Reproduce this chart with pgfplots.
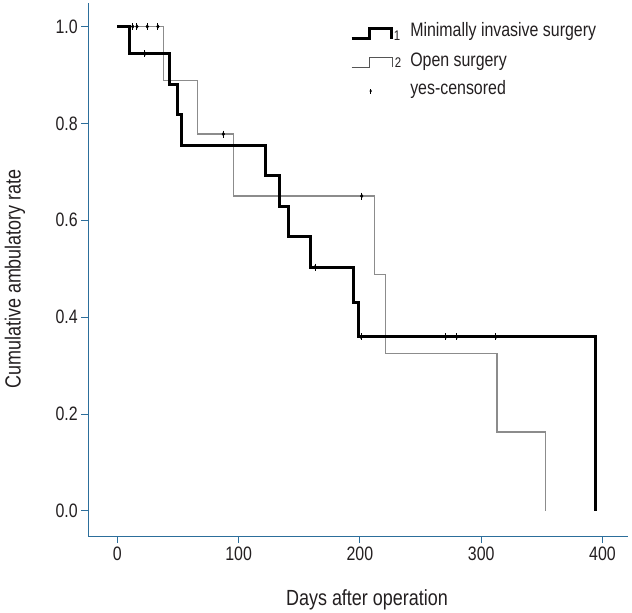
\documentclass[border=0pt]{standalone}
\usepackage{pgfplots}
\pgfplotsset{compat=1.18}
\usepackage{fontspec}
\setmainfont{Liberation Sans}[FakeStretch=0.82]
\definecolor{axisblue}{HTML}{2C6E9B}
\definecolor{txt}{HTML}{231F20}
\definecolor{grayline}{HTML}{8C8C8C}
\definecolor{legendgray}{HTML}{555555}

\begin{document}
\begin{tikzpicture}
\begin{axis}[
  scale only axis, width=539.7bp, height=532.7bp,
  xmin=-23.9, xmax=421, ymin=-0.052, ymax=1.048,
  axis x line*=bottom, axis y line*=left,
  axis line style={axisblue, line width=0.9bp, -},
  xtick={0,100,200,300,400},
  ytick={0,0.2,0.4,0.6,0.8,1.0},
  tick align=outside, major tick length=7bp,
  tick style={axisblue, line width=0.9bp},
  /pgf/number format/assume math mode=true,
  ticklabel style={font=\fontsize{19.5}{20}\selectfont, text=txt},
  yticklabel style={/pgf/number format/.cd, fixed, fixed zerofill, precision=1},
  xlabel={Days after operation},
  ylabel={Cumulative ambulatory rate},
  label style={font=\fontsize{22}{24}\selectfont, text=txt},
  xlabel style={at={(axis description cs:0.5164,-0.1207)}, anchor=center},
  ylabel style={at={(axis description cs:-0.1358,0.4825)}, anchor=center, rotate=0},
  legend style={draw=none, fill=none, inner sep=0pt,
    at={(axis description cs:0.4849,0.970)}, anchor=north west,
    row sep=7.3bp, column sep=7bp,
    font=\fontsize{19.5}{20}\selectfont, text=txt,
    cells={anchor=base west, inner xsep=0pt, inner ysep=0pt, text height=15bp, text depth=5bp}},
]
% Open surgery (group 2)
\addplot[grayline, line width=1.5bp, const plot, forget plot] coordinates {
 (0,1.0) (38,0.889) (66,0.778) (95.6,0.650) (212,0.488) (221,0.325) (313,0.1625) (353,0.0)
};
% Minimally invasive surgery (group 1)
\addplot[black, line width=3bp, const plot, forget plot] coordinates {
 (0,1.0) (10,0.944) (43,0.881) (50,0.818) (53,0.755) (122,0.692) (134,0.629)
 (141.5,0.566) (159,0.503) (195,0.431) (199,0.359) (394,0.0)
};
% censored marks
\addplot[only marks, mark=|, mark size=3.5bp, black, line width=1bp, forget plot] coordinates {
 (12.7,1.0) (16.2,1.0) (24.7,1.0) (33.5,1.0) (87.4,0.778) (201.5,0.650)
 (22.8,0.944) (163,0.503) (201,0.359) (270.7,0.359) (279.8,0.359) (312,0.359)
};
\addplot[only marks, mark=diamond*, mark size=1.8bp, black, forget plot] coordinates {
 (12.7,1.0) (16.2,1.0) (24.7,1.0) (33.5,1.0) (87.4,0.778) (201.5,0.650)
 (22.8,0.944) (163,0.503) (201,0.359) (270.7,0.359) (279.8,0.359) (312,0.359)
};
\addlegendimage{legend image code/.code={
  \draw[black, line width=3bp] (0bp,-2bp) -- (18bp,-2bp) -- (18bp,7.5bp) -- (40bp,7.5bp) -- (40bp,-2.5bp);
  \node[draw=none, anchor=base west, inner sep=0pt, font=\fontsize{14}{14}\selectfont, text=txt] at (42bp,-4bp) {1};}}
\addlegendentry{Minimally invasive surgery}
\addlegendimage{legend image code/.code={
  \draw[legendgray, line width=1.2bp] (0bp,-1bp) -- (18bp,-1bp) -- (18bp,8.5bp) -- (41bp,8.5bp) -- (41bp,-0.5bp);
  \node[draw=none, anchor=base west, inner sep=0pt, font=\fontsize{14}{14}\selectfont, text=txt] at (43bp,-1.5bp) {2};}}
\addlegendentry{Open surgery}
\addlegendimage{legend image code/.code={
  \path[draw=none, fill=none] (0bp,0bp) -- (48bp,0bp);
  \draw[black, line width=0.8bp] (19bp,0.5bp) -- (19bp,5.5bp);
  \fill[black, draw=none] (19bp,4.5bp) -- (20.2bp,3bp) -- (19bp,1.5bp) -- (17.8bp,3bp) -- cycle;}}
\addlegendentry{yes-censored}
\coordinate (ll) at (rel axis cs:0,0);
\coordinate (ur) at (rel axis cs:1,1);
\end{axis}
\pgfresetboundingbox
\path[use as bounding box] ([xshift=-88.3bp,yshift=-77bp]ll) rectangle ([xshift=4bp,yshift=3.3bp]ur);
\end{tikzpicture}
\end{document}
